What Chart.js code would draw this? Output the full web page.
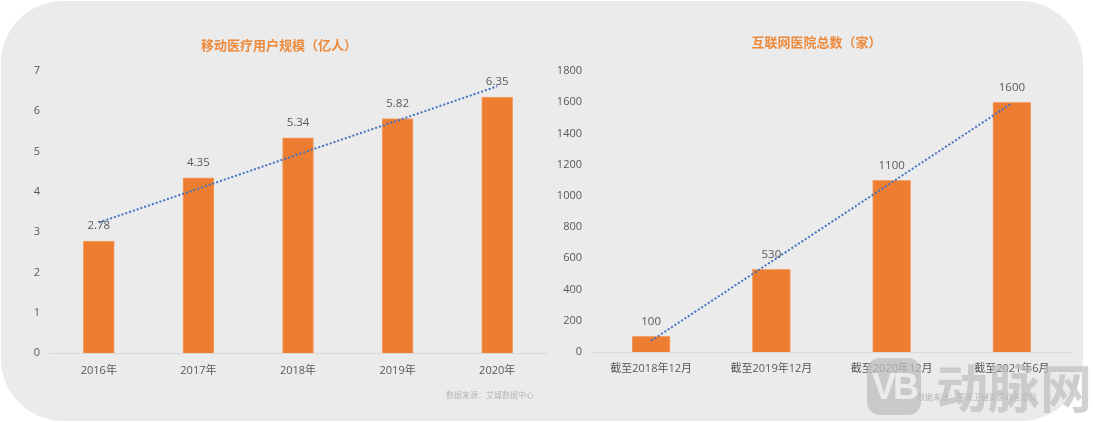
<!DOCTYPE html>
<html>
<head>
<meta charset="utf-8">
<script src="https://cdn.jsdelivr.net/npm/chart.js@4/dist/chart.umd.min.js"></script>
<style>
    html, body { margin: 0; padding: 0; width: 1093px; height: 422px; background: #fff; overflow: hidden; }
    body { position: relative; font-family: "Open Sans", "Noto Sans CJK SC", sans-serif; }
    #panel { position: absolute; left: 1px; top: 1px; width: 1082px; height: 420px; background: #ebebeb; border-radius: 62px; }
    canvas { position: absolute; top: 0; }
    #userChart { left: 0; }
    #hospitalChart { left: 545px; }
    .source { position: absolute; font-size: 8px; color: #b5b5b5; white-space: nowrap; }
    #logo { position: absolute; left: 867px; top: 358px; width: 54px; height: 57px; border-radius: 13px; background: rgba(190, 190, 190, 0.75);
        color: #ebebeb; font: bold 36px/57px "Liberation Sans", sans-serif; text-align: center; letter-spacing: -3px; }
    #mark { position: absolute; left: 936px; top: 355px; font: bold 52px/62px "Noto Sans CJK SC", sans-serif; color: rgba(190, 190, 190, 0.7); white-space: nowrap; }
</style>
</head>
<body>
<div id="panel"></div>
<canvas id="userChart" width="554" height="422"></canvas>
<canvas id="hospitalChart" width="542" height="422"></canvas>
<div class="source" style="left:446px;top:389px">数据来源：艾媒数据中心</div>
<div class="source" style="left:917px;top:391px">数据来源：国家卫健委医政医管局</div>
<div id="logo">VB</div>
<div id="mark">动脉网</div>
<script>
    const userYears = ['2016年', '2017年', '2018年', '2019年', '2020年'];
    const userValues = [2.78, 4.35, 5.34, 5.82, 6.35];
    const userTrend = [3.24, 4.08, 4.93, 5.77, 6.62];
    const userLabels = ['2.78', '4.35', '5.34', '5.82', '6.35'];

    const hospitalDates = ['截至2018年12月', '截至2019年12月', '截至2020年12月', '截至2021年6月'];
    const hospitalValues = [100, 530, 1100, 1600];
    const hospitalTrend = [72, 579, 1086, 1593];
    const hospitalLabels = ['100', '530', '1100', '1600'];

    const fontFamily = '"Open Sans", "Noto Sans CJK SC", sans-serif';

    // draws the value above each bar, and nudges the title sideways
    const barLabels = {
        id: 'barLabels',
        afterLayout(chart, args, opts) {
            chart.titleBlock.left += opts.titleShift;
            chart.titleBlock.right += opts.titleShift;
        },
        afterDatasetsDraw(chart, args, opts) {
            const ctx = chart.ctx;
            const bars = chart.getDatasetMeta(1).data;
            ctx.save();
            ctx.font = '11.5px ' + fontFamily;
            ctx.fillStyle = '#595959';
            ctx.textAlign = 'center';
            ctx.textBaseline = 'middle';
            bars.forEach((bar, i) => ctx.fillText(opts.texts[i], bar.x, bar.y - 15));
            ctx.restore();
        }
    };

    function makeChart(id, cfg) {
        return new Chart(document.getElementById(id), {
            type: 'bar',
            data: {
                labels: cfg.categories,
                datasets: [{
                    type: 'line',
                    data: cfg.trend,
                    borderColor: '#4472c4',
                    borderWidth: 2,
                    borderDash: [2, 2],
                    pointRadius: 0,
                    tension: 0,
                    order: 0
                }, {
                    data: cfg.values,
                    backgroundColor: '#ed7d31',
                    borderColor: '#f4a06a',
                    borderWidth: 1,
                    barThickness: cfg.barWidth,
                    order: 1
                }]
            },
            options: {
                responsive: false,
                animation: false,
                layout: { padding: { left: 0, right: cfg.rightPad, top: 0, bottom: 0 } },
                plugins: {
                    legend: { display: false },
                    tooltip: { enabled: false },
                    title: {
                        display: true,
                        text: cfg.title,
                        color: '#ee8a3c',
                        font: { family: fontFamily, size: 13, weight: 'bold', lineHeight: 1.2 },
                        padding: { top: cfg.titleTop, bottom: 71 - cfg.titleTop - 15.6 }
                    },
                    barLabels: { texts: cfg.texts, titleShift: cfg.titleShift }
                },
                scales: {
                    x: {
                        grid: { display: false, drawTicks: false },
                        border: { color: '#d9d9d9', width: 1 },
                        ticks: { color: '#595959', font: { family: fontFamily, size: 11 }, padding: cfg.xPad, maxRotation: 0, autoSkip: false },
                        afterFit(scale) { scale.height = cfg.xHeight; }
                    },
                    y: {
                        min: 0,
                        max: cfg.max,
                        grid: { display: false, drawTicks: false },
                        border: { display: false },
                        ticks: { stepSize: cfg.step, color: '#595959', font: { family: fontFamily, size: 11 }, padding: 9, callback: (v) => String(v) },
                        afterFit(scale) { scale.width = cfg.axisWidth; }
                    }
                }
            },
            plugins: [barLabels]
        });
    }

    makeChart('userChart', {
        title: '移动医疗用户规模（亿人）',
        titleTop: 38,
        titleShift: 5.5,
        categories: userYears,
        values: userValues,
        trend: userTrend,
        texts: userLabels,
        max: 7,
        step: 1,
        barWidth: 31,
        axisWidth: 49,
        rightPad: 7,
        xHeight: 69,
        xPad: 11
    });

    makeChart('hospitalChart', {
        title: '互联网医院总数（家）',
        titleTop: 35,
        titleShift: 8,
        categories: hospitalDates,
        values: hospitalValues,
        trend: hospitalTrend,
        texts: hospitalLabels,
        max: 1800,
        step: 200,
        barWidth: 38,
        axisWidth: 46,
        rightPad: 15,
        xHeight: 70,
        xPad: 10
    });
</script>
</body>
</html>
